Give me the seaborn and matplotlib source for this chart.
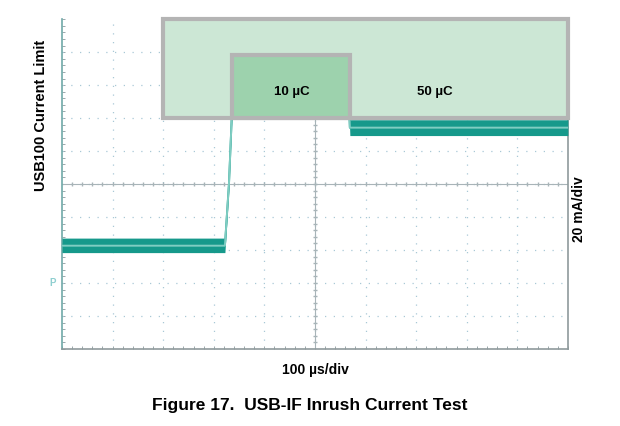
import numpy as np
import pandas as pd
import seaborn as sns
import matplotlib.pyplot as plt
from matplotlib.patches import Rectangle

# scope trace in divisions (x: 100 us/div, y: 20 mA/div, 0 = bottom of screen)
t_div = [0.0, 1.0, 2.0, 3.0, 3.22, 3.30, 3.36, 4.5, 5.66, 5.69, 6.5, 8.0, 10.0]
i_mid = [3.13, 3.13, 3.13, 3.13, 3.13, 5.0, 7.2, 8.2, 8.0, 6.71, 6.71, 6.71, 6.71]
i_lo = [2.92, 2.92, 2.92, 2.92, 2.92, 4.9, 7.1, 8.0, 7.8, 6.47, 6.47, 6.47, 6.47]
i_hi = [3.36, 3.36, 3.36, 3.36, 3.36, 5.1, 7.3, 8.4, 8.2, 6.95, 6.95, 6.95, 6.95]

# charge windows (div units)
box_labels = ["50 µC", "10 µC"]
box_x0 = [2.0, 3.36]
box_x1 = [10.0, 5.69]
box_y0 = [7.0, 7.0]
box_y1 = [10.0, 8.9]
box_fill = ["#cce7d5", "#9dd2ad"]
label_x = [7.37, 4.55]

sns.set_style("white")
plt.rcParams['font.family'] = ['Liberation Sans', 'DejaVu Sans']
plt.rcParams['text.color'] = 'black'

fig = plt.figure(figsize=(6.2, 4.26), dpi=100)
ax = fig.add_axes([0.1, 0.181, 0.816, 0.774])

df = pd.DataFrame({"t": t_div, "i": i_mid})
ax.fill_between(t_div, i_lo, i_hi, color="#16998b", lw=0, zorder=3)
ax.plot(t_div, i_mid, color="#16998b", lw=1.4, zorder=3)
sns.lineplot(data=df, x="t", y="i", ax=ax, color="#7fcdc2", lw=1.4, zorder=4)

# graticule
for k in range(1, 10):
    ax.axvline(k, color="#a9c8d6", lw=0.9, ls=(0, (1, 6)), zorder=1)
    ax.axhline(k, color="#a9c8d6", lw=0.9, ls=(0, (1, 6)), zorder=1)
ax.axvline(5, color="#a8b4b8", lw=0.8, zorder=1)
ax.axhline(5, color="#a8b4b8", lw=0.8, zorder=1)
minor = np.arange(0.2, 10, 0.2)
ax.plot(minor, np.full_like(minor, 5), ls="none", marker="|", ms=3,
        color="#a8b4b8", zorder=1)
ax.plot(np.full_like(minor, 5), minor, ls="none", marker="_", ms=3,
        color="#a8b4b8", zorder=1)

for lab, x0, x1, y0, y1, fc, lx in zip(box_labels, box_x0, box_x1, box_y0,
                                       box_y1, box_fill, label_x):
    ax.add_patch(Rectangle((x0, y0), x1 - x0, y1 - y0, facecolor=fc,
                           edgecolor="#b4b4b4", lw=3, zorder=5,
                           clip_on=False))
    ax.text(lx, 7.8, lab, ha="center", va="center", fontsize=9.5,
            fontweight="bold", zorder=6)

ax.set_xlim(0, 10)
ax.set_ylim(0, 10)
ax.set_xticks(np.arange(0, 10.01, 0.2))
ax.set_yticks(np.arange(0, 10.01, 0.2))
ax.tick_params(length=2, width=0.6, color="#8a9a9e", labelleft=False,
               labelbottom=False, bottom=True, left=True, direction="in")
ax.set_xlabel("")
ax.set_ylabel("")
for s in ["left", "bottom", "right"]:
    ax.spines[s].set_color("#8f9a9c")
    ax.spines[s].set_linewidth(1.2)
ax.spines["left"].set_color("#6fa9a8")
ax.spines["top"].set_visible(False)

ax.text(-0.012, 0.2, "P", transform=ax.transAxes, color="#8fcfd0",
        fontsize=7, fontweight="bold", ha="right", va="center")

fig.text(0.066, 0.73, "USB100 Current Limit", rotation=90, ha="center",
         va="center", fontsize=10.5, fontweight="bold")
fig.text(0.934, 0.51, "20 mA/div", rotation=90, ha="center", va="center",
         fontsize=10, fontweight="bold")
fig.text(0.508, 0.131, "100 µs/div", ha="center", va="center", fontsize=10,
         fontweight="bold")
fig.text(0.5, 0.049, "Figure 17.  USB-IF Inrush Current Test", ha="center",
         va="center", fontsize=12.5, fontweight="bold")

fig.savefig("out.png", dpi=100)
